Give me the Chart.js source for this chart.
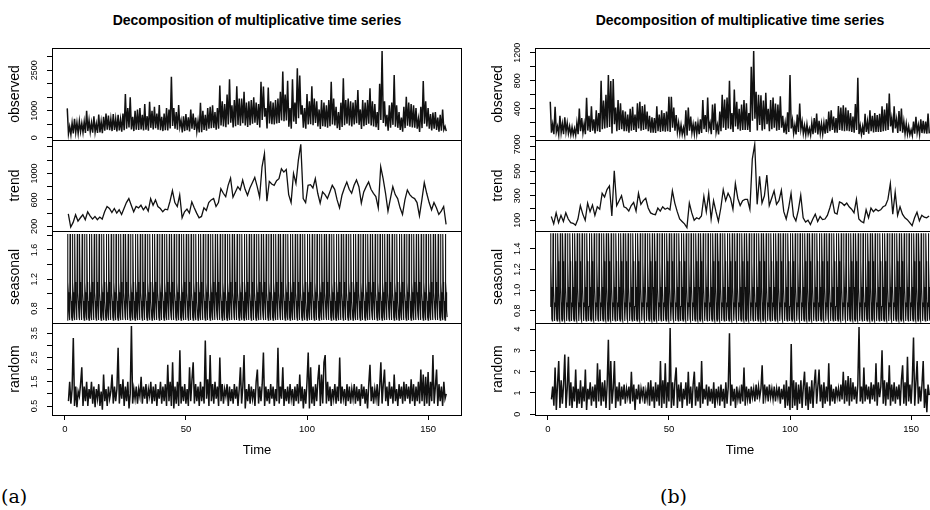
<!DOCTYPE html>
<html lang="en">

<head>
  <meta charset="UTF-8" />
  <title>Decomposition of multiplicative time series</title>
  <script src="https://cdn.jsdelivr.net/npm/chart.js"></script>
  <style>
    body { margin: 0; width: 930px; height: 510px; overflow: hidden; background: #fff; position: relative; }
    canvas { position: absolute; }
    .ttl { position: absolute; top: 11px; font: bold 14px "Liberation Sans", Arial, sans-serif; line-height: 18px; transform: translateX(-50%); white-space: nowrap; }
    .tag { position: absolute; top: 484px; font: 19px "DejaVu Serif", serif; line-height: 24px; }
  </style>
</head>

<body>
  <div class="ttl" style="left:257px">Decomposition of multiplicative time series</div>
  <div class="ttl" style="left:740px">Decomposition of multiplicative time series</div>
  <div class="tag" style="left:1px">(a)</div>
  <div class="tag" style="left:660px">(b)</div>

  <script>
    // ---- panel (a) ----
    // observed: t = 1, 1.5, 2, ...
    const obsA = [
      1090,150, 420,120, 550,160, 700,200, 560,170, 620,230, 540,200, 600,180, 1000,250, 650,220,
      560,190, 800,210, 520,180, 860,200, 600,170, 780,260, 900,300, 820,280, 700,250, 880,290,
      700,240, 850,270, 680,230, 900,280, 1620,340, 1100,380, 1500,310, 780,250, 1000,300, 1050,290,
      1100,310, 850,270, 1250,300, 800,260, 1330,370, 1000,310, 1150,360, 900,300, 1210,280, 780,250,
      900,280, 1100,270, 1050,350, 2260,440, 1100,340, 950,300, 1210,400, 640,200, 800,250, 880,280,
      760,240, 1050,340, 900,290, 750,240, 620,200, 1300,210, 1000,290, 850,260, 1100,340, 1150,360,
      1200,370, 950,300, 1100,340, 1930,460, 1350,420, 1250,390, 1600,490, 2160,560, 1200,380, 1400,430,
      1910,480, 1450,450, 1450,540, 1700,460, 1300,400, 1350,470, 1400,520, 1500,560, 1300,480, 1250,380,
      2070,660, 1900,780, 1100,350, 1860,530, 1350,500, 1300,490, 1400,530, 1450,550, 1700,640, 2450,610,
      1600,640, 2110,410, 1100,340, 2160,600, 1300,510, 2570,720, 2300,860, 1200,370, 1100,340, 1620,490,
      1350,500, 1910,470, 1450,550, 1350,420, 1050,330, 1400,430, 1300,410, 1200,370, 1400,430, 2070,490,
      1450,460, 1150,360, 950,290, 1300,400, 2200,470, 1400,520, 1450,460, 1350,420, 1300,490, 1400,540,
      1770,480, 1050,330, 1400,430, 1300,480, 1400,520, 1830,460, 1350,420, 1250,390, 950,290, 2000,660,
      3210,550, 1350,420, 850,260, 1200,370, 1300,480, 2320,410, 1200,370, 950,290, 750,230, 1150,360,
      1520,450, 1300,410, 1250,380, 1200,370, 1100,340, 700,220, 1150,360, 2100,520, 1350,420, 1100,340,
      880,270, 930,340, 950,290, 750,230, 850,260, 1050,300, 420,250
    ];
    // trend: t = 1.43, 2.43, ...
    const trendA = [
      390, 190, 260, 375, 280, 330, 375, 300, 420, 360,
      310, 350, 300, 340, 310, 420, 500, 470, 410, 470,
      400, 450, 380, 470, 560, 620, 520, 420, 500, 480,
      520, 450, 500, 430, 620, 520, 600, 500, 470, 420,
      460, 450, 580, 740, 560, 500, 675, 330, 420, 460,
      400, 570, 480, 400, 330, 350, 480, 440, 560, 600,
      620, 500, 560, 770, 700, 650, 820, 930, 640, 720,
      800, 750, 900, 760, 670, 780, 860, 940, 800, 640,
      1100, 1300, 580, 880, 840, 820, 890, 920, 1070, 1020,
      1060, 680, 560, 1000, 850, 1200, 1440, 620, 560, 820,
      830, 780, 920, 700, 550, 720, 680, 620, 720, 820,
      760, 600, 480, 670, 780, 870, 760, 700, 820, 900,
      800, 550, 720, 800, 870, 760, 700, 650, 480, 1100,
      920, 700, 430, 620, 800, 680, 620, 480, 380, 600,
      750, 680, 640, 620, 560, 360, 600, 860, 700, 560,
      450, 560, 480, 380, 430, 500, 230
    ];
    // seasonal: one period (7 per time unit)
    const seasA = [0.64, 1.82, 1.16, 1.02, 0.90, 0.78, 0.68];
    // random: t = 1.5, 2, 2.5, ...
    const randA = [
      0.7,1.5,0.6,1.2,3.3,0.5,1.3,0.45,1.1,0.9,1.4,2.1,0.5,1.3,0.7,1.5,0.5,1.2,0.8,1.5,
      0.6,1.3,0.45,1.2,0.8,1.4,0.5,1.1,0.35,1.8,0.7,1.2,0.5,1.3,0.8,1.1,1.8,0.6,1.3,0.7,
      1.2,2.9,0.6,1.4,0.8,1.6,0.5,1.3,0.7,1.5,0.4,1.0,3.8,0.6,1.2,0.8,1.3,0.6,1.2,0.9,
      1.7,0.6,1.3,0.8,1.4,0.6,1.2,0.9,1.5,0.6,1.3,0.7,1.4,0.5,1.2,0.8,1.5,0.6,1.3,0.7,
      1.4,0.5,2.2,0.7,1.5,0.5,2.3,0.4,1.3,0.6,1.5,0.5,2.8,0.6,1.3,0.7,1.4,0.6,1.2,0.5,
      2.1,0.7,1.6,2.3,0.6,1.4,0.7,1.3,0.5,1.5,0.7,1.3,0.6,3.2,0.8,1.6,0.5,2.6,0.7,1.4,
      0.6,1.5,0.8,1.3,0.5,2.5,0.7,1.4,0.6,1.2,0.9,1.4,0.5,1.3,0.7,1.2,0.6,1.4,0.8,1.3,
      0.5,1.2,2.1,0.6,1.3,2.6,0.4,1.2,0.7,1.4,0.6,1.3,0.8,1.2,0.5,1.5,2.0,0.6,1.3,0.7,
      1.4,2.7,0.5,1.3,0.7,1.2,0.6,1.4,0.8,1.3,0.5,1.2,0.7,2.9,0.6,1.3,0.8,2.1,0.5,1.2,
      0.7,1.3,0.6,1.4,0.8,1.2,0.5,1.3,0.7,1.4,0.6,1.8,0.7,1.3,0.4,1.2,0.6,1.5,2.7,0.4,
      2.1,0.6,1.3,0.5,1.4,0.7,1.6,2.2,0.5,1.8,0.6,2.3,2.6,0.6,1.5,0.7,1.3,0.5,1.2,0.8,
      1.4,0.6,1.3,0.7,2.5,0.6,1.3,0.8,1.2,0.5,1.4,0.7,1.3,0.6,1.2,0.8,1.4,0.6,1.3,0.7,
      1.2,0.5,1.4,0.8,1.3,0.6,1.2,0.4,1.4,2.2,0.7,1.3,0.6,1.2,0.8,1.4,0.5,1.3,2.3,0.6,
      1.4,2.0,0.7,1.3,0.5,1.5,0.8,1.3,0.6,1.8,0.7,1.2,0.5,1.4,0.8,1.3,0.6,1.5,0.7,1.4,
      0.8,1.3,0.6,1.6,0.7,1.4,0.5,1.3,0.7,1.5,0.6,2.0,0.7,1.8,0.5,1.7,0.6,1.9,0.5,1.5,
      0.7,2.6,0.6,1.3,2.0,0.5,1.4,0.7,1.3,0.5,1.5,0.8,1.0
    ];

    // ---- panel (b) ----
    const obsB = [
      500,60, 180,40, 430,70, 150,30, 300,60, 190,40, 280,70, 200,50, 150,30, 140,30,
      120,25, 200,40, 405,80, 270,60, 190,40, 557,90, 300,70, 438,90, 250,50, 380,80,
      340,70, 800,110, 520,120, 600,130, 881,140, 795,50, 824,180, 420,80, 524,100, 480,110,
      380,80, 360,80, 320,60, 400,90, 430,100, 320,70, 480,120, 500,90, 440,100, 460,110,
      360,80, 300,60, 280,60, 270,55, 438,80, 320,70, 380,80, 340,75, 360,80, 571,70,
      571,130, 420,90, 310,70, 200,45, 170,35, 130,30, 381,20, 420,90, 290,60, 180,40,
      220,45, 200,40, 250,55, 524,110, 310,70, 560,120, 200,40, 460,100, 476,70, 170,35,
      360,80, 600,130, 533,100, 560,120, 800,110, 340,70, 676,150, 500,110, 400,90, 460,100,
      524,100, 480,100, 340,70, 1000,230, 1224,260, 643,90, 600,170, 595,90, 520,110, 629,180,
      400,80, 524,110, 560,130, 476,90, 460,100, 580,130, 300,60, 200,40, 350,70, 881,120,
      240,50, 170,35, 320,70, 476,110, 220,45, 160,30, 180,40, 120,25, 200,40, 270,60,
      333,35, 230,50, 190,40, 200,45, 250,55, 360,80, 381,100, 290,60, 270,60, 440,100,
      420,90, 452,80, 420,90, 380,80, 340,70, 290,60, 470,100, 843,40, 160,35, 150,30,
      330,70, 220,45, 381,80, 300,65, 340,70, 310,70, 330,70, 438,80, 390,90, 480,100,
      619,150, 270,60, 438,120, 250,55, 370,80, 405,60, 220,45, 190,40, 150,30, 100,20,
      220,45, 286,60, 170,35, 250,55, 230,50, 220,45, 333,50
    ];
    const trendB = [
      130, 70, 160, 80, 140, 90, 160, 110, 80, 75,
      60, 110, 220, 150, 100, 240, 170, 225, 140, 210,
      190, 320, 290, 350, 380, 135, 505, 220, 260, 300,
      210, 200, 175, 220, 245, 175, 320, 230, 260, 280,
      200, 160, 150, 145, 200, 175, 210, 190, 200, 185,
      340, 240, 170, 110, 90, 70, 40, 240, 160, 100,
      120, 110, 135, 295, 170, 320, 110, 260, 170, 90,
      200, 350, 260, 320, 280, 190, 400, 280, 220, 260,
      270, 270, 190, 600, 720, 230, 460, 240, 300, 470,
      220, 280, 340, 230, 260, 345, 170, 110, 200, 320,
      135, 95, 180, 305, 120, 85, 100, 65, 110, 150,
      90, 130, 105, 110, 140, 200, 270, 160, 150, 250,
      240, 220, 240, 210, 190, 160, 270, 110, 90, 80,
      185, 120, 200, 170, 190, 175, 185, 210, 220, 270,
      400, 150, 330, 140, 210, 150, 120, 105, 80, 55,
      120, 165, 95, 140, 125, 120, 135
    ];
    const seasB = [0.84, 1.55, 1.28, 1.03, 0.88, 0.72, 0.70];
    const randB = [
      0.7,1.3,0.4,2.2,0.2,1.4,2.5,0.3,1.6,0.5,1.4,2.8,0.3,1.2,2.7,0.4,1.5,0.3,1.3,0.6,
      2.1,0.3,1.2,0.5,1.6,0.3,1.3,0.6,2.1,0.2,1.2,0.7,1.5,0.4,1.3,0.6,1.4,0.3,2.4,0.6,
      2.1,0.4,1.5,0.6,1.6,0.3,1.4,3.5,0.2,2.5,0.5,1.2,2.5,0.3,1.3,0.6,1.5,0.4,1.3,0.7,
      1.4,0.5,1.2,0.8,1.3,0.5,2.0,0.6,1.4,0.2,1.2,0.7,1.4,0.5,1.2,0.8,1.3,0.5,1.1,0.7,
      1.5,0.4,1.6,0.6,1.3,0.3,1.5,0.6,1.4,0.4,2.5,0.3,1.6,0.5,2.4,0.3,1.5,0.6,4.05,0.3,
      1.5,0.4,1.6,2.2,0.3,1.4,0.6,1.5,0.3,1.2,0.7,1.5,0.4,2.0,0.5,1.3,0.3,1.4,2.0,0.4,
      1.3,0.6,1.5,0.3,2.5,0.5,1.2,0.7,1.4,0.4,1.3,0.6,1.2,0.5,1.5,0.3,1.2,0.7,1.3,0.4,
      1.4,0.6,1.2,0.3,1.5,0.5,1.3,3.8,0.4,1.4,0.6,1.2,0.3,1.3,0.7,1.1,0.5,1.4,0.6,2.2,
      0.4,1.3,0.7,1.2,0.5,1.3,0.8,1.2,0.6,1.4,0.7,1.3,0.8,1.2,2.3,0.5,1.4,0.8,1.3,0.6,
      1.4,0.8,1.2,0.7,1.3,0.6,1.2,0.8,1.3,0.5,1.2,0.7,1.4,0.3,1.6,0.4,1.3,0.2,3.3,0.3,
      1.6,0.4,1.5,0.2,1.4,0.5,1.6,0.3,1.3,2.0,0.4,1.5,0.2,1.3,0.5,1.6,0.3,1.4,2.1,0.5,
      1.3,2.1,0.6,1.4,0.3,1.5,0.5,1.3,0.6,2.4,0.4,1.4,0.6,1.2,0.5,1.3,0.8,1.2,0.6,1.4,
      0.7,2.0,0.5,1.6,0.6,1.8,0.4,1.7,0.6,1.5,0.7,1.3,0.5,1.4,4.1,0.6,1.3,0.5,2.2,0.6,
      1.4,0.7,1.3,0.5,1.5,0.7,1.4,0.6,2.4,0.4,1.5,0.8,1.3,3.0,0.5,1.6,0.4,1.5,0.7,2.3,
      0.4,1.4,0.6,1.5,0.5,1.3,0.7,1.4,0.4,1.6,2.3,0.5,1.5,0.4,2.7,0.6,1.4,0.5,1.6,3.6,
      0.4,1.5,2.5,0.5,1.3,0.6,1.4,2.5,0.3,1.2,0.1,1.4,0.9
    ];

    // axis ticks and the labels R printed
    const xTicks = [0, 50, 100, 150];
    const obsTicksA = [0, 500, 1000, 1500, 2000, 2500, 3000];
    const obsLabA = ['0', '1000', '2500'];
    const trendTicksA = [200, 400, 600, 800, 1000, 1200, 1400];
    const trendLabA = ['200', '600', '1000'];
    const seasTicksA = [0.8, 1.0, 1.2, 1.4, 1.6, 1.8];
    const seasLabA = ['0.8', '1.2', '1.6'];
    const randTicksA = [0.5, 1.0, 1.5, 2.0, 2.5, 3.0, 3.5];
    const randLabA = ['0.5', '1.5', '2.5', '3.5'];
    const obsTicksB = [0, 200, 400, 600, 800, 1000, 1200];
    const obsLabB = ['0', '400', '800', '1200'];
    const trendTicksB = [100, 200, 300, 400, 500, 600, 700];
    const trendLabB = ['100', '300', '500', '700'];
    const seasTicksB = [0.8, 1.0, 1.2, 1.4];
    const seasLabB = ['0.8', '1.0', '1.2', '1.4'];
    const randTicksB = [0, 1, 2, 3, 4];
    const randLabB = ['0', '1', '2', '3', '4'];

    const seasPerUnit = 7, seasCount = 1099;

    Chart.defaults.font.family = '"Liberation Sans", Arial, sans-serif';
    Chart.defaults.color = '#000';

    function series(vals, start, step) {
      return vals.map((v, i) => ({ x: start + i * step, y: v }));
    }
    function seasonal(period) {
      const pts = [];
      for (let k = 0; k < seasCount; k++) pts.push({ x: 1 + k / seasPerUnit, y: period[k % period.length] });
      return pts;
    }

    // box round the plot and rotated y labels, as R draws them
    const rBox = {
      id: 'rbox',
      afterDraw(chart, args, opts) {
        const { ctx, chartArea: a } = chart;
        const y = chart.scales.y;
        ctx.save();
        ctx.strokeStyle = '#000';
        ctx.lineWidth = 1;
        // bottom edge on the same pixel row as the next panel's top edge
        ctx.strokeRect(a.left + 0.5, a.top + 0.5, a.right - a.left - 1, a.bottom - a.top);
        ctx.fillStyle = '#000';
        ctx.font = '9px "Liberation Sans", Arial, sans-serif';
        ctx.textAlign = 'center';
        ctx.textBaseline = 'middle';
        opts.labels.forEach(s => {
          ctx.save();
          ctx.translate(a.left - 17, y.getPixelForValue(Number(s)));
          ctx.rotate(-Math.PI / 2);
          ctx.fillText(s, 0, 0);
          ctx.restore();
        });
        ctx.restore();
      }
    };

    const rows = [
      { name: 'observed', top: 48, bot: 140 },
      { name: 'trend', top: 140, bot: 231 },
      { name: 'seasonal', top: 231, bot: 323 },
      { name: 'random', top: 323, bot: 415 }
    ];

    function addChart(left, row, pts, range, ticks, labels, lw, isBottom) {
      const cv = document.createElement('canvas');
      const h = isBottom ? row.bot - row.top + 10 + 45 : row.bot - row.top + 20;
      cv.width = 462;
      cv.height = h;
      cv.style.left = left + 'px';
      cv.style.top = (row.top - 10) + 'px';
      document.body.appendChild(cv);
      const xScale = {
        type: 'linear',
        min: -5.3,
        max: 164,
        display: isBottom,
        afterBuildTicks: s => { s.ticks = xTicks.map(v => ({ value: v })); },
        grid: { drawOnChartArea: false, drawTicks: true, tickLength: 5, color: '#000' },
        border: { display: false },
        ticks: { autoSkip: false, maxRotation: 0, padding: 4, font: { size: 9.5 } },
        title: { display: true, text: 'Time', font: { size: 13 }, padding: { top: 0, bottom: 2 } }
      };
      if (isBottom) xScale.afterFit = s => { s.height = 45; };
      new Chart(cv, {
        type: 'line',
        data: {
          datasets: [{
            data: pts,
            borderColor: '#111',
            borderWidth: lw,
            pointRadius: 0,
            tension: 0,
            fill: false
          }]
        },
        plugins: [rBox],
        options: {
          responsive: false,
          animation: false,
          events: [],
          layout: { padding: { top: 10, bottom: isBottom ? 0 : 10, left: 0, right: 0 } },
          plugins: {
            legend: { display: false },
            tooltip: { enabled: false },
            rbox: { labels: labels }
          },
          scales: {
            x: xScale,
            y: {
              type: 'linear',
              min: range[0],
              max: range[1],
              afterBuildTicks: s => { s.ticks = ticks.map(v => ({ value: v })); },
              afterFit: s => { s.width = 52; },
              grid: { drawOnChartArea: false, drawTicks: true, tickLength: 5, color: '#000' },
              border: { display: false },
              ticks: { display: false },
              title: { display: true, text: row.name, font: { size: 14 }, padding: { top: 6.6, bottom: 0 } }
            }
          }
        }
      });
    }

    function panel(left, d) {
      addChart(left, rows[0], series(d.obs, 1, 0.5), d.ranges[0], d.ticks[0], d.labs[0], 1.5, false);
      addChart(left, rows[1], series(d.trend, 1.43, 1), d.ranges[1], d.ticks[1], d.labs[1], 1.3, false);
      addChart(left, rows[2], seasonal(d.seas), d.ranges[2], d.ticks[2], d.labs[2], 1.1, false);
      addChart(left, rows[3], series(d.rand, 1.5, 0.5), d.ranges[3], d.ticks[3], d.labs[3], 1.5, true);
    }

    panel(0, {
      obs: obsA, trend: trendA, seas: seasA, rand: randA,
      ranges: [[-80, 3320], [130, 1505], [0.6, 1.86], [0.13, 3.92]],
      ticks: [obsTicksA, trendTicksA, seasTicksA, randTicksA],
      labs: [obsLabA, trendLabA, seasLabA, randLabA]
    });
    panel(483, {
      obs: obsB, trend: trendB, seas: seasB, rand: randB,
      ranges: [[-44, 1267], [12, 756], [0.68, 1.573], [-0.033, 4.285]],
      ticks: [obsTicksB, trendTicksB, seasTicksB, randTicksB],
      labs: [obsLabB, trendLabB, seasLabB, randLabB]
    });
  </script>
</body>

</html>
